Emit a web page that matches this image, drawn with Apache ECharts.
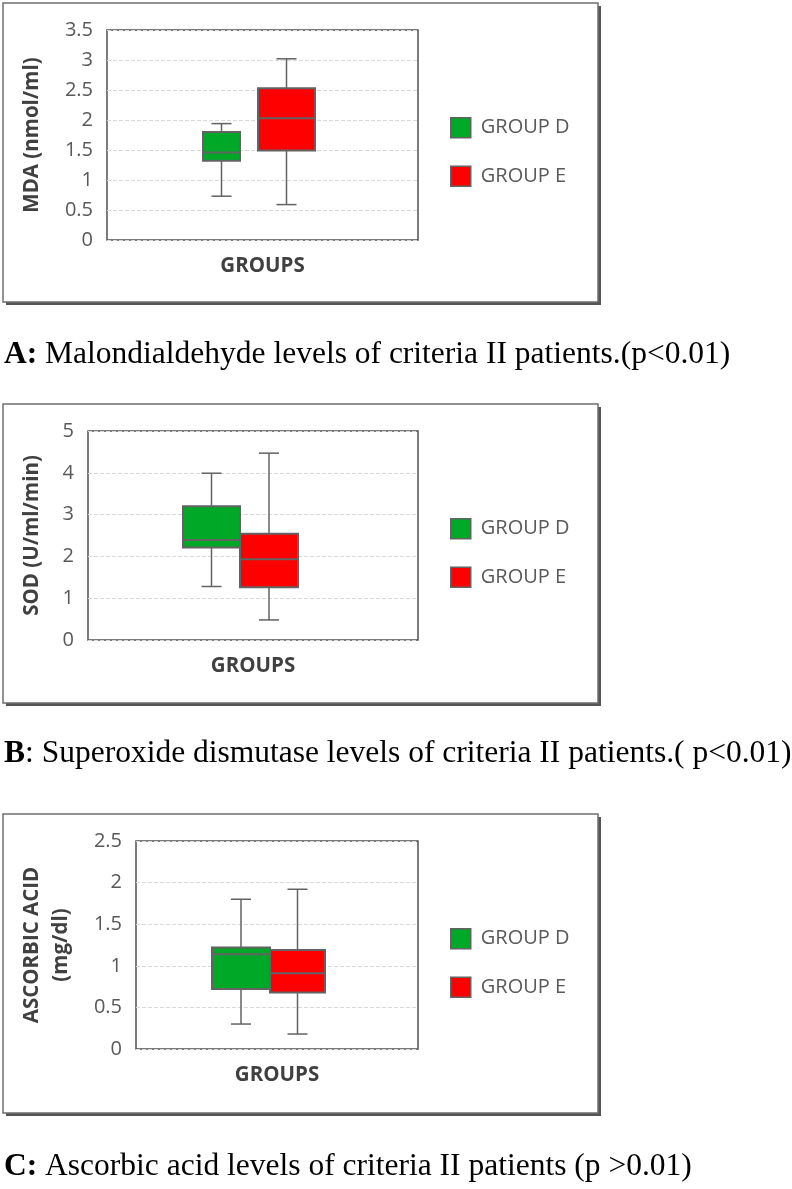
<!DOCTYPE html>
<html>
<head>
<meta charset="utf-8">
<script src="https://cdn.jsdelivr.net/npm/echarts@6/dist/echarts.min.js"></script>
<style>
  html, body { margin: 0; padding: 0; background: #fff; }
  #chart { width: 792px; height: 1189px; }
</style>
</head>
<body>
<div id="chart"></div>
<script>
// ---------- DATA ----------
const groupNames = ['GROUP D', 'GROUP E'];
const xCategory = ['GROUPS'];
// [min, Q1, median, Q3, max]
const mdaGroupD = [0.73, 1.32, 1.46, 1.80, 1.94];
const mdaGroupE = [0.59, 1.49, 2.03, 2.53, 3.02];
const sodGroupD = [1.28, 2.21, 2.39, 3.20, 3.99];
const sodGroupE = [0.48, 1.26, 1.93, 2.54, 4.47];
const ascGroupD = [0.30, 0.72, 1.14, 1.22, 1.80];
const ascGroupE = [0.18, 0.68, 0.91, 1.19, 1.92];
// y-axis ranges [min, max, interval]
const mdaAxis = [0, 3.5, 0.5];
const sodAxis = [0, 5, 1];
const ascAxis = [0, 2.5, 0.5];
const yAxisTitles = ['MDA (nmol/ml)', 'SOD (U/ml/min)', 'ASCORBIC ACID\n(mg/dl)'];
const xAxisTitle = 'GROUPS';
const captions = [
  '{b|A:} Malondialdehyde levels of criteria II patients.(p<0.01)',
  '{b|B}: Superoxide dismutase levels of criteria II patients.( p<0.01)',
  '{b|C:} Ascorbic acid levels of criteria II patients (p >0.01)'
];

// ---------- LAYOUT / STYLE ----------
const GREEN = '#00A827';
const RED = '#FF0000';
const EDGE = '#636363';
const SANS = '"Open Sans", "DejaVu Sans", sans-serif';
const panels = [
  { box: [3, 3, 595, 299],   grid: { left: 107, top: 30,  width: 311, height: 210 }, legendTop: 117, nameGap: 60,
    boxes: [{ off: -41, w: 37 }, { off: 24, w: 57 }], caption: 355 },
  { box: [3, 404, 595, 299], grid: { left: 88,  top: 431, width: 330, height: 209 }, legendTop: 518, nameGap: 41,
    boxes: [{ off: -41.5, w: 57 }, { off: 16, w: 58 }], caption: 754 },
  { box: [3, 814, 595, 299], grid: { left: 136, top: 841, width: 282, height: 208 }, legendTop: 928, nameGap: 60,
    boxes: [{ off: -36, w: 58 }, { off: 20.5, w: 55 }], caption: 1167 }
];
const seriesData = [[mdaGroupD, mdaGroupE], [sodGroupD, sodGroupE], [ascGroupD, ascGroupE]];
const axes = [mdaAxis, sodAxis, ascAxis];

function makeRender(layout, color) {
  return function (params, api) {
    const cx = api.coord([api.value(0), 0])[0] + layout.off;
    const yMin = api.coord([0, api.value(1)])[1];
    const yQ1 = api.coord([0, api.value(2)])[1];
    const yMed = api.coord([0, api.value(3)])[1];
    const yQ3 = api.coord([0, api.value(4)])[1];
    const yMax = api.coord([0, api.value(5)])[1];
    const half = layout.w / 2;
    const cap = 10;
    const lineStyle = { stroke: EDGE, lineWidth: 1.5 };
    return {
      type: 'group',
      children: [
        { type: 'line', shape: { x1: cx, y1: yMax, x2: cx, y2: yQ3 }, style: lineStyle },
        { type: 'line', shape: { x1: cx, y1: yQ1, x2: cx, y2: yMin }, style: lineStyle },
        { type: 'line', shape: { x1: cx - cap, y1: yMax, x2: cx + cap, y2: yMax }, style: lineStyle },
        { type: 'line', shape: { x1: cx - cap, y1: yMin, x2: cx + cap, y2: yMin }, style: lineStyle },
        { type: 'rect', shape: { x: cx - half, y: yQ3, width: layout.w, height: yQ1 - yQ3 },
          style: { fill: color, stroke: EDGE, lineWidth: 2 } },
        { type: 'line', shape: { x1: cx - half, y1: yMed, x2: cx + half, y2: yMed },
          style: { stroke: EDGE, lineWidth: 2 } }
      ]
    };
  };
}

const option = {
  animation: false,
  backgroundColor: '#fff',
  grid: [], xAxis: [], yAxis: [], legend: [], series: [], graphic: []
};

panels.forEach(function (p, i) {
  const b = p.box;
  // outer chart frame with shadow
  option.graphic.push({ type: 'rect', z: -20, shape: { x: b[0] + 3, y: b[1] + 3, width: b[2], height: b[3] },
    style: { fill: '#555' } });
  option.graphic.push({ type: 'rect', z: -19, shape: { x: b[0], y: b[1], width: b[2], height: b[3] },
    style: { fill: '#fff', stroke: '#6f6f6f', lineWidth: 1.5 } });
  // caption
  option.graphic.push({ type: 'text', z: 10, style: {
    x: 4, y: p.caption, text: captions[i], verticalAlign: 'middle', textAlign: 'left',
    font: '31.5px "Liberation Serif", "Times New Roman", serif', fill: '#000',
    rich: { b: { fontWeight: 'bold', fontSize: 31.5, fontFamily: '"Liberation Serif", serif', fill: '#000' } }
  } });

  option.grid.push(Object.assign({ show: true, borderColor: '#505050', borderWidth: 1.5, backgroundColor: 'transparent' }, p.grid));
  option.xAxis.push({
    type: 'category', gridIndex: i, data: xCategory,
    axisLine: { show: false }, axisTick: { show: false }, axisLabel: { show: false },
    name: xAxisTitle, nameLocation: 'middle', nameGap: 16,
    nameTextStyle: { fontFamily: SANS, fontSize: 20.5, fontWeight: 'bold', color: '#404040' }
  });
  const ax = axes[i];
  option.yAxis.push({
    type: 'value', gridIndex: i, min: ax[0], max: ax[1], interval: ax[2],
    axisLine: { show: false }, axisTick: { show: false },
    axisLabel: { fontFamily: SANS, fontSize: 20, color: '#595959', margin: 14 },
    splitLine: { show: true, lineStyle: { color: '#d9d9d9', type: [4, 2], width: 1 } },
    name: yAxisTitles[i], nameLocation: 'middle', nameRotate: 90, nameGap: p.nameGap,
    nameTextStyle: { fontFamily: SANS, fontSize: 20.5, fontWeight: 'bold', color: '#404040', lineHeight: 29 }
  });
  option.legend.push({
    data: groupNames, orient: 'vertical', left: 450, top: p.legendTop, padding: 0,
    itemWidth: 20, itemHeight: 20, itemGap: 27, icon: 'rect', selectedMode: false,
    itemStyle: { borderColor: EDGE, borderWidth: 1.5 },
    textStyle: { fontFamily: SANS, fontSize: 20, color: '#595959', padding: [0, 0, 0, 5] }
  });
  [GREEN, RED].forEach(function (color, k) {
    const v = seriesData[i][k];
    option.series.push({
      type: 'custom', name: groupNames[k], xAxisIndex: i, yAxisIndex: i,
      itemStyle: { color: color },
      encode: { x: 0, y: [1, 2, 3, 4, 5] },
      data: [[0, v[0], v[1], v[2], v[3], v[4]]],
      renderItem: makeRender(p.boxes[k], color)
    });
  });
});

const chart = echarts.init(document.getElementById('chart'), null, { renderer: 'canvas' });
chart.setOption(option);
</script>
</body>
</html>
